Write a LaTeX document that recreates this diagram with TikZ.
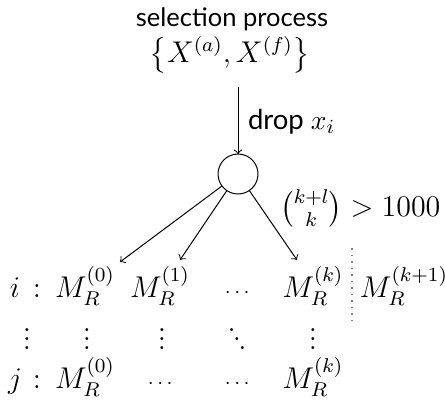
\documentclass[tikz,border=0pt]{standalone}
\usepackage{amsmath}
\usepackage[no-math]{fontspec}
\setmainfont{Lato}
\usetikzlibrary{arrows}
\newcommand\myvdots{\vbox{\baselineskip3.6pt\lineskiplimit0pt\hbox{$.$}\hbox{$.$}\hbox{$.$}}}
\newcommand\myddots{\hbox{\raisebox{7.2pt}{$.$}\kern-1.1pt\raisebox{3.6pt}{$.$}\kern-1.1pt$.$}}
\begin{document}
\begin{tikzpicture}[x=0.4pt,y=-0.4pt,
  every node/.style={inner sep=0pt,outer sep=0pt,font=\fontsize{12}{14}\selectfont},
  txt/.style={font=\fontsize{11}{13}\selectfont},
  lbl/.style={anchor=base},
  smalldots/.style={font=\fontsize{8}{9}\selectfont},
  conn/.style={->,line width=0.4pt},
  sep/.style={gray,dotted,line width=0.6pt}]
\useasboundingbox (0,0) rectangle (445,414);
\node[font=\fontsize{10.2}{12}\selectfont] (sel) at (232,19) {selection process};
\node (set) at (230,55) {$\left\{X^{(a)},X^{(f)}\right\}$};
\coordinate (top) at (238,87);
\node[draw,circle,minimum size=16pt,line width=0.4pt] (c) at (238,174) {};
\draw[conn] (top) -- (c);
\node[txt,anchor=west] (drop) at (248,122) {drop $x_i$};
\node[anchor=west] (bin) at (280,208) {$\binom{k+l}{k} > 1000$};
% row i
\node[lbl] (i) at (15,297) {$i$};
\node[lbl] (ic) at (37,297) {$:$};
\node[lbl] (M0) at (85,297) {$M_R^{(0)}$};
\node[lbl] (M1) at (160,297) {$M_R^{(1)}$};
\node[lbl,smalldots] (idots) at (239,297) {$\cdots$};
\node[lbl] (Mk) at (313,297) {$M_R^{(k)}$};
\node[lbl] (Mk1) at (404,297) {$M_R^{(k+1)}$};
\coordinate (a0) at (120,262);
\coordinate (a1) at (180,260);
\coordinate (ak) at (297,260);
\draw[conn] (c) -- (a0);
\draw[conn] (c) -- (a1);
\draw[conn] (c) -- (ak);
\coordinate (d1) at (352,248);
\coordinate (d2) at (352,321);
\draw[sep] (d1) -- (d2);
% vdots row
\node (v1) at (27,339) {\myvdots};
\node (v2) at (87,339) {\myvdots};
\node (v3) at (162,339) {\myvdots};
\node (v4) at (237,339) {\myddots};
\node (v5) at (313,339) {\myvdots};
% row j
\node[lbl] (j) at (15,388) {$j$};
\node[lbl] (jc) at (37,388) {$:$};
\node[lbl] (N0) at (85,388) {$M_R^{(0)}$};
\node[lbl,smalldots] (jd1) at (162,388) {$\cdots$};
\node[lbl,smalldots] (jd2) at (239,388) {$\cdots$};
\node[lbl] (Nk) at (313,388) {$M_R^{(k)}$};
\end{tikzpicture}
\end{document}
